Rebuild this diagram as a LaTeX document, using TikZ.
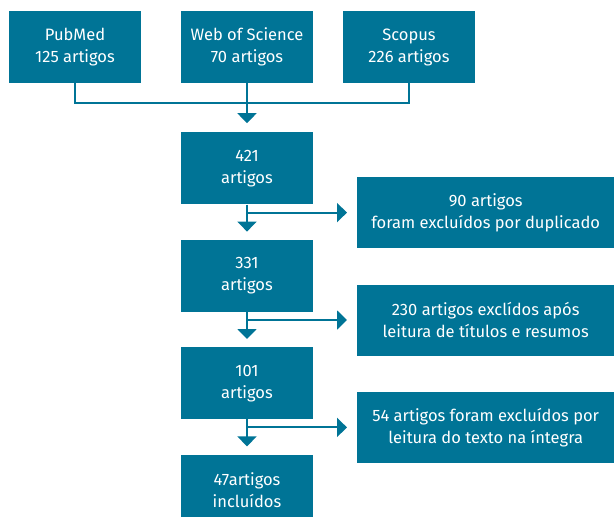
\documentclass[tikz,border=0pt]{standalone}
\usepackage{fontspec}
\setmainfont{Fira Sans}
\usetikzlibrary{positioning, arrows.meta}
\definecolor{teal}{RGB}{0,116,150}
\begin{document}
\begin{tikzpicture}[x=1pt, y=1pt,
     node distance = 35pt and 110pt,
        box/.style = {rectangle, fill=teal, text=white, align=center, inner sep=0pt,
                      minimum width=132pt, minimum height=72pt,
                      font=\fontsize{16.5}{22}\selectfont},
        sbox/.style = {box, minimum width=257pt, minimum height=71pt},
        line/.style = {draw=teal, line width=2pt},
         arr/.style = {line, -{Triangle[width=19pt,length=10pt]}}
                        ]
\useasboundingbox (0,0) rectangle (614,-517);
\node (pubmed) [box] at (75,-47)  {PubMed\\125 artigos};
\node (wos)    [box] at (247,-47) {Web of Science\\70 artigos};
\node (scopus) [box] at (409,-47) {Scopus\\226 artigos};
\node (total)  [box, below=49pt of wos]  {421\\artigos};
\node (dedup)  [box, below=of total]     {331\\artigos};
\node (screen) [box, below=of dedup]     {101\\artigos};
\node (incl)   [box, below=of screen]    {47artigos\\incluídos};
\coordinate [below=20pt of wos.south]   (join);
\coordinate [below=8pt of total.south]  (br1);
\coordinate [below=8pt of dedup.south]  (br2);
\coordinate [below=8pt of screen.south] (br3);
\node (excl1) [sbox, right=of br1] {90 artigos\\foram excluídos por duplicado};
\node (excl2) [sbox, right=of br2] {230 artigos exclídos após\\leitura de títulos e resumos};
\node (excl3) [sbox, right=of br3] {54 artigos foram excluídos por\\leitura do texto na íntegra};
\draw[line] (pubmed.south) |- (join) -| (scopus.south);
\draw[arr, shorten >=9pt] (wos.south) -- (total.north);
\draw[arr, shorten >=8pt] (total) -- (dedup);
\draw[arr, shorten >=8pt] (dedup) -- (screen);
\draw[arr, shorten >=8pt] (screen) -- (incl);
\draw[arr, shorten >=10pt] (br1) -- (excl1.west);
\draw[arr, shorten >=10pt] (br2) -- (excl2.west);
\draw[arr, shorten >=10pt] (br3) -- (excl3.west);
\end{tikzpicture}
\end{document}
